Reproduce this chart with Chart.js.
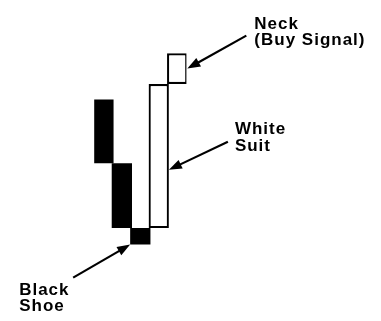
<!DOCTYPE html>
<html>
<head>
<meta charset="utf-8">
<script src="https://cdn.jsdelivr.net/npm/chart.js@4"></script>
<style>
  html, body { margin: 0; padding: 0; background: #ffffff; }
  #wrap { width: 381px; height: 321px; }
</style>
</head>
<body>
<div id="wrap"><canvas id="c" width="381" height="321"></canvas></div>
<script>
// ---- data ----
const categories = ['Day 1', 'Day 2', 'Day 3', 'Day 4', 'Day 5'];
const lows  = [44, 14.5, 7, 14.5, 80];
const highs = [73, 44, 14.5, 80, 94];
const candleType = ['black', 'black', 'black', 'white', 'white'];

// annotation labels (target category, value, side of bar)
const noteLines   = [['Neck', '(Buy Signal)'], ['White', 'Suit'], ['Black', 'Shoe']];
const noteTarget  = [4, 3, 2];
const noteValue   = [87, 41, 7];

// ---- layout of annotations (pixel offsets from arrow tip) ----
const noteSide = ['right', 'right', 'left'];
const tailOff  = [[59, -33], [59, -28], [-57, 33]];
const textOff  = [[67, -40], [66, -36], [-111, 50]];

const bars = categories.map((c, i) => [lows[i], highs[i]]);

function arrow(ctx, x1, y1, x2, y2) {
  const ang = Math.atan2(y2 - y1, x2 - x1);
  const hl = 13, hw = 4.8;
  const bx = x2 - hl * Math.cos(ang), by = y2 - hl * Math.sin(ang);
  ctx.beginPath();
  ctx.moveTo(x1, y1);
  ctx.lineTo(bx + 1.5 * Math.cos(ang), by + 1.5 * Math.sin(ang));
  ctx.lineWidth = 2.2;
  ctx.strokeStyle = '#000';
  ctx.stroke();
  ctx.beginPath();
  ctx.moveTo(x2, y2);
  ctx.lineTo(bx - hw * Math.sin(ang), by + hw * Math.cos(ang));
  ctx.lineTo(bx + hw * Math.sin(ang), by - hw * Math.cos(ang));
  ctx.closePath();
  ctx.fillStyle = '#000';
  ctx.fill();
}

const notesPlugin = {
  id: 'notes',
  afterDatasetsDraw(chart) {
    const ctx = chart.ctx;
    const meta = chart.getDatasetMeta(0);
    const ys = chart.scales.y;
    ctx.save();
    noteLines.forEach((lines, k) => {
      const el = meta.data[noteTarget[k]];
      const tx = noteSide[k] === 'right' ? el.x + el.width / 2 : el.x - el.width / 2;
      const ty = ys.getPixelForValue(noteValue[k]);
      arrow(ctx, tx + tailOff[k][0], ty + tailOff[k][1], tx, ty);
      ctx.font = 'bold 17px "Liberation Sans", Arial, sans-serif';
      if ('letterSpacing' in ctx) ctx.letterSpacing = '1px';
      ctx.fillStyle = '#000';
      ctx.textAlign = 'left';
      ctx.textBaseline = 'alphabetic';
      lines.forEach((t, j) => {
        ctx.fillText(t, tx + textOff[k][0], ty + textOff[k][1] + j * 16.7);
      });
    });
    ctx.restore();
  }
};

new Chart(document.getElementById('c'), {
  type: 'bar',
  data: {
    labels: categories,
    datasets: [{
      data: bars,
      backgroundColor: candleType.map(t => t === 'black' ? '#000000' : '#ffffff'),
      borderColor: '#000000',
      borderWidth: candleType.map(t => t === 'black' ? 0 : 2.2),
      borderSkipped: false,
      categoryPercentage: 1,
      barPercentage: 1.1
    }]
  },
  options: {
    responsive: false,
    animation: false,
    events: [],
    layout: { padding: { left: 94.2, right: 194.6, top: 40, bottom: 61 } },
    plugins: { legend: { display: false }, tooltip: { enabled: false } },
    scales: {
      x: { display: false, grid: { display: false } },
      y: { display: false, min: 0, max: 100, grid: { display: false } }
    }
  },
  plugins: [notesPlugin]
});
</script>
</body>
</html>
